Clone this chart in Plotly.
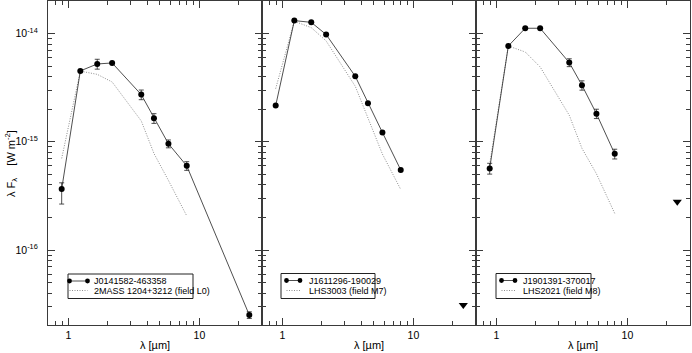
import math
import plotly.graph_objects as go

# ---------------- data ----------------
wavelength = [0.89, 1.235, 1.662, 2.159, 3.6, 4.5, 5.8, 8.0]
wavelength_24 = [0.89, 1.235, 1.662, 2.159, 3.6, 4.5, 5.8, 8.0, 24.0]
mips_wave = [24.0]

# Panel 1: J0141582-463358
p1_name = "J0141582-463358"
p1_flux = [3.66e-16, 4.52e-15, 5.24e-15, 5.35e-15, 2.73e-15, 1.65e-15, 9.6e-16, 6.0e-16, 2.51e-17]
p1_err_plus = [0.52e-16, 0, 0.55e-15, 0, 0.28e-15, 0.17e-15, 0.8e-16, 0.55e-16, 0.18e-17]
p1_err_minus = [1.0e-16, 0, 0.55e-15, 0, 0.28e-15, 0.17e-15, 0.8e-16, 0.55e-16, 0.18e-17]
p1_tmpl_name = "2MASS 1204+3212 (field L0)"
p1_tmpl = [7.03e-16, 4.5e-15, 4.2e-15, 3.57e-15, 1.56e-15, 7.8e-16, 4.4e-16, 2.07e-16]

# Panel 2: J1611296-190029
p2_name = "J1611296-190029"
p2_flux = [2.16e-15, 1.318e-14, 1.27e-14, 9.8e-15, 4.03e-15, 2.27e-15, 1.22e-15, 5.5e-16]
p2_limit = [3.1e-17]
p2_tmpl_name = "LHS3003 (field M7)"
p2_tmpl = [3.1e-15, 1.3e-14, 1.135e-14, 8.55e-15, 3.26e-15, 1.65e-15, 7.7e-16, 3.63e-16]

# Panel 3: J1901391-370017
p3_name = "J1901391-370017"
p3_flux = [5.68e-16, 7.68e-15, 1.12e-14, 1.12e-14, 5.4e-15, 3.33e-15, 1.82e-15, 7.74e-16]
p3_err = [0.65e-16, 0, 0, 0, 0.45e-15, 0.33e-15, 0.18e-15, 0.8e-16]
p3_limit = [2.79e-16]
p3_tmpl_name = "LHS2021 (field M8)"
p3_tmpl = [6.2e-16, 7.68e-15, 6.76e-15, 4.92e-15, 1.76e-15, 8.7e-16, 5.07e-16, 2.18e-16]

x_ticks = [1, 10]
x_ticklabels = ["1", "10"]
x_minor = [0.8, 0.9, 2, 3, 4, 5, 6, 7, 8, 9, 20, 30]
y_ticks = [1e-16, 1e-15, 1e-14]
y_ticklabels = ["10<sup>-16</sup>", "10<sup>-15</sup>", "10<sup>-14</sup>"]
y_minor = [k * 10.0 ** d for d in (-17, -16, -15, -14) for k in range(2, 10)]

# ---------------- styling ----------------
FONT = "Liberation Sans, Arial, Helvetica, sans-serif"
W, H = 692, 353
L, R, T, B = 48, 2, 1, 28
PW, PH = W - L - R, H - T - B
AX = "#3a3a3a"
DATA_LINE = "#222222"
TMPL_LINE = "#808080"


def px(x):
    return (x - L) / PW


def py(y):
    return (H - B - y) / PH


fig = go.Figure()

err_style = dict(type="data", thickness=0.8, width=2.5, color="#222222")


def data_trace(x, y, name, axis, ep=None, em=None):
    kw = {}
    if ep is not None:
        kw["error_y"] = dict(array=ep, arrayminus=em if em is not None else ep, symmetric=False, **err_style)
    return go.Scatter(x=x, y=y, name=name, mode="lines+markers",
                      line=dict(color=DATA_LINE, width=0.8),
                      marker=dict(color="black", size=6),
                      xaxis="x" + axis, yaxis="y" + axis, showlegend=False, **kw)


def tmpl_trace(x, y, name, axis):
    return go.Scatter(x=x, y=y, name=name, mode="lines",
                      line=dict(color=TMPL_LINE, width=0.9, dash="1px,1.5px"),
                      xaxis="x" + axis, yaxis="y" + axis, showlegend=False)


def limit_trace(x, y, name, axis):
    return go.Scatter(x=x, y=y, name=name + " (upper limit)", mode="markers",
                      marker=dict(color="black", size=8, symbol="triangle-down"),
                      xaxis="x" + axis, yaxis="y" + axis, showlegend=False)


fig.add_trace(tmpl_trace(wavelength, p1_tmpl, p1_tmpl_name, ""))
fig.add_trace(data_trace(wavelength_24, p1_flux, p1_name, "", p1_err_plus, p1_err_minus))

fig.add_trace(tmpl_trace(wavelength, p2_tmpl, p2_tmpl_name, "2"))
fig.add_trace(data_trace(wavelength, p2_flux, p2_name, "2"))
fig.add_trace(limit_trace(mips_wave, p2_limit, p2_name, "2"))

fig.add_trace(tmpl_trace(wavelength, p3_tmpl, p3_tmpl_name, "3"))
fig.add_trace(data_trace(wavelength, p3_flux, p3_name, "3", p3_err, p3_err))
fig.add_trace(limit_trace(mips_wave, p3_limit, p3_name, "3"))

xrange_ = [math.log10(0.70), math.log10(30.0)]
yrange_ = [math.log10(2.03e-17), math.log10(2.0e-14)]

domains = [[0, 1 / 3], [1 / 3, 2 / 3], [2 / 3, 1]]
layout = dict(
    width=W, height=H,
    margin=dict(l=L, r=R, t=T, b=B, pad=0),
    paper_bgcolor="white", plot_bgcolor="white",
    font=dict(family=FONT, size=10, color="black"),
    showlegend=False,
)
for i, dom in enumerate(domains):
    s = "" if i == 0 else str(i + 1)
    layout["xaxis" + s] = dict(
        type="log", range=xrange_, domain=dom, anchor="y" + s,
        tickmode="array", tickvals=x_ticks, ticktext=x_ticklabels,
        ticks="inside", ticklen=7, tickwidth=1, tickcolor=AX,
        showline=True, linecolor=AX, linewidth=1.2, mirror="ticks",
        showgrid=False, zeroline=False,
        tickfont=dict(size=10.5, family=FONT),
        minor=dict(tickmode="array", tickvals=x_minor, ticks="inside", ticklen=4, tickcolor=AX, showgrid=False),
    )
    layout["yaxis" + s] = dict(
        type="log", range=yrange_, anchor="x" + s,
        tickmode="array", tickvals=y_ticks, ticktext=y_ticklabels,
        showticklabels=(i == 0), ticklabelstandoff=7,
        ticks="inside", ticklen=7, tickwidth=1, tickcolor=AX,
        showline=True, linecolor=AX, linewidth=1.2, mirror="ticks",
        showgrid=False, zeroline=False,
        tickfont=dict(size=10.5, family=FONT),
        minor=dict(tickmode="array", tickvals=y_minor, ticks="inside", ticklen=4, tickcolor=AX, showgrid=False),
    )
fig.update_layout(**layout)

annotations = []
shapes = []

# axis titles
for i in range(3):
    cx = L + PW * (i + 0.5) / 3
    annotations.append(dict(text="λ [µm]", x=px(cx), y=py(345), xref="paper", yref="paper",
                            xanchor="center", yanchor="middle", showarrow=False,
                            font=dict(size=11, family=FONT)))
annotations.append(dict(text="λ F<sub>λ</sub>    [W m<sup>-2</sup>]", x=px(11), y=py(164),
                        xref="paper", yref="paper", textangle=-90, xanchor="center", yanchor="middle",
                        showarrow=False, font=dict(size=11, family=FONT)))

# manual legends (box, symbol x-range, row y's, text x)
legends = [
    ((68, 274, 193, 298.5), (69.5, 87.5), (281, 290.5), 91.5, p1_name, p1_tmpl_name),
    ((281, 273.5, 375, 298.5), (286.5, 300), (280.5, 290.5), 307, p2_name, p2_tmpl_name),
    ((496, 273.5, 591, 298.5), (501.5, 515), (280.5, 290.5), 521, p3_name, p3_tmpl_name),
]
for (bx0, by0, bx1, by1), (sx0, sx1), (r1, r2), tx, n1, n2 in legends:
    shapes.append(dict(type="rect", xref="paper", yref="paper", x0=px(bx0), x1=px(bx1), y0=py(by1), y1=py(by0),
                       line=dict(color="#222222", width=1), fillcolor="white", layer="above"))
    shapes.append(dict(type="line", xref="paper", yref="paper", x0=px(sx0), x1=px(sx1), y0=py(r1), y1=py(r1),
                       line=dict(color=DATA_LINE, width=0.8), layer="above"))
    for cx in (sx0, sx1):
        rr = 2.4
        shapes.append(dict(type="circle", xref="paper", yref="paper", x0=px(cx - rr), x1=px(cx + rr),
                           y0=py(r1 + rr), y1=py(r1 - rr), fillcolor="black", line=dict(color="black", width=0),
                           layer="above"))
    shapes.append(dict(type="line", xref="paper", yref="paper", x0=px(sx0), x1=px(sx1), y0=py(r2), y1=py(r2),
                       line=dict(color=TMPL_LINE, width=0.9, dash="1px,1.5px"), layer="above"))
    for txt, ry in ((n1, r1), (n2, r2)):
        annotations.append(dict(text=txt, x=px(tx), y=py(ry), xref="paper", yref="paper",
                                xanchor="left", yanchor="middle", showarrow=False,
                                font=dict(size=9, family=FONT)))

fig.update_layout(annotations=annotations, shapes=shapes)
fig.write_html("out.html", config={"displayModeBar": False},
               post_script="document.body.style.margin='0';document.body.style.padding='0';")
